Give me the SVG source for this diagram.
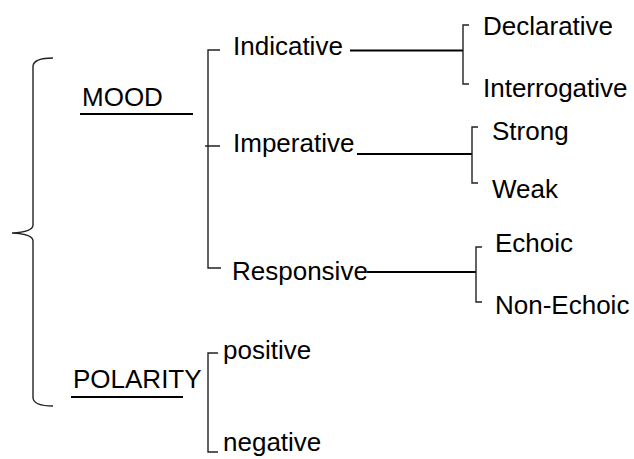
<svg xmlns="http://www.w3.org/2000/svg" width="634" height="459" viewBox="0 0 634 459">
<style>
text{font-family:"Liberation Sans",Arial,sans-serif;font-size:26px;fill:#000}
.br{fill:none;stroke:#222;stroke-width:1.4}
.ln{fill:none;stroke:#000;stroke-width:2.2}
</style>
<rect width="634" height="459" fill="#fff"/>
<g id="connectors">
<path class="br" d="M53,58 Q34,58 33,66 L33,225 Q33,232 12,233 Q33,234 33,241 L33,398 Q34,406 53,406"/>
<path class="ln" d="M80,114 H193"/>
<path class="ln" d="M71,397 H183"/>
<path class="br" d="M220,50 H208 V268 H221 M205,146 H220"/>
<path class="br" d="M218,353 H208 V452 H218"/>
<path class="ln" d="M350,50.5 H463"/>
<path class="br" d="M469,25 H463 V84 H469"/>
<path class="ln" d="M357,154 H472"/>
<path class="br" d="M478,127 H472 V183 H478"/>
<path class="ln" d="M367,272 H476"/>
<path class="br" d="M482,247 H476 V302 H482"/>
</g>
<g id="mood"><text x="82" y="106">MOOD</text></g>
<g id="polarity"><text x="73" y="388">POLARITY</text></g>
<g id="indicative"><text x="233" y="55">Indicative</text></g>
<g id="imperative"><text x="233" y="152">Imperative</text></g>
<g id="responsive"><text x="232" y="280">Responsive</text></g>
<g id="declarative"><text x="483" y="35">Declarative</text></g>
<g id="interrogative"><text x="483" y="97">Interrogative</text></g>
<g id="strong"><text x="492" y="140">Strong</text></g>
<g id="weak"><text x="492" y="198">Weak</text></g>
<g id="echoic"><text x="495" y="252">Echoic</text></g>
<g id="non-echoic"><text x="495" y="314">Non-Echoic</text></g>
<g id="positive"><text x="223" y="359">positive</text></g>
<g id="negative"><text x="223" y="451">negative</text></g>
</svg>
